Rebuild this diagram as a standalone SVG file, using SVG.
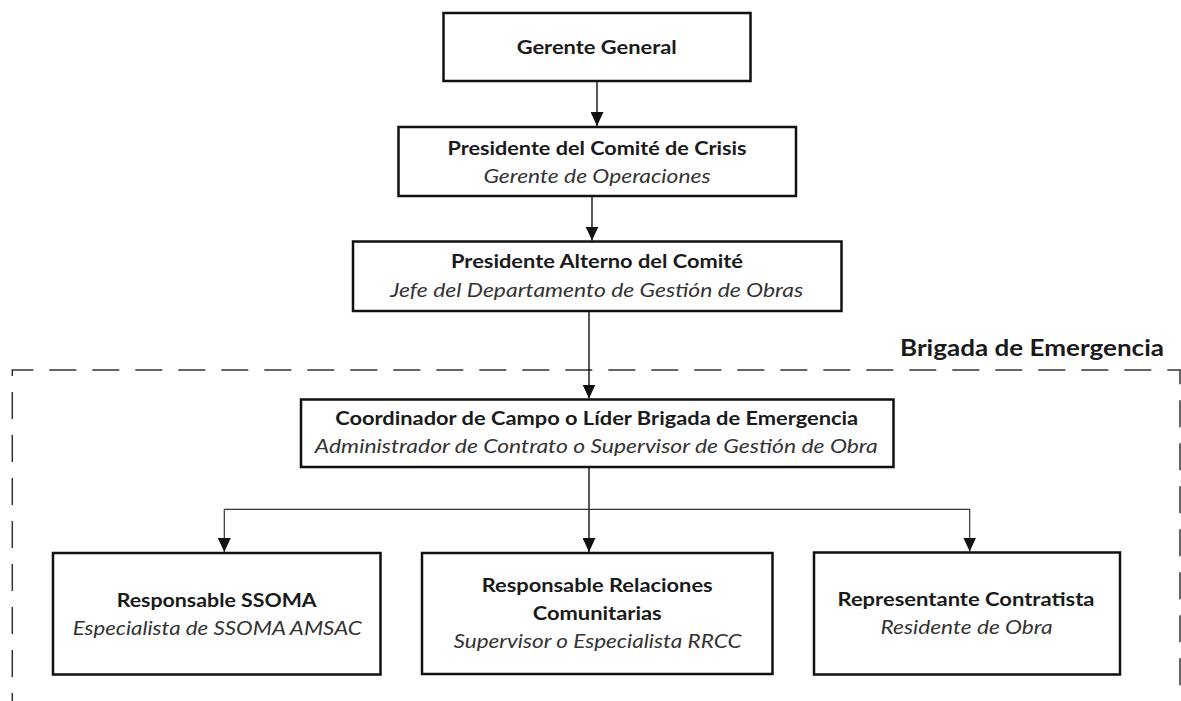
<svg xmlns="http://www.w3.org/2000/svg" width="1181" height="701" viewBox="0 0 1181 701">
  <style>
    .box { fill: #ffffff; stroke: #111111; stroke-width: 2.5; }
    .t { font-family: Lato, "Open Sans", "Liberation Sans", sans-serif; font-size: 19px; text-anchor: middle; }
    .b { font-weight: bold; fill: #1a1a1a; }
    .i { font-style: italic; fill: #333333; }
    .conn { fill: none; stroke: #111111; stroke-width: 1.4; }
    .branch { fill: none; stroke: #333333; stroke-width: 1.2; }
    .dash { fill: none; stroke: #333333; stroke-width: 1.5; stroke-dasharray: 27 16; }
    .title { font-family: Lato, "Open Sans", "Liberation Sans", sans-serif; font-size: 22px; font-weight: bold; fill: #1a1a1a; }
  </style>
  <defs>
    <marker id="arrow" viewBox="0 0 14 13" refX="14" refY="6.5" markerWidth="14" markerHeight="13" markerUnits="userSpaceOnUse" orient="auto">
      <path d="M0,0 L14,6.5 L0,13 Z" fill="#111111"/>
    </marker>
  </defs>
  <rect width="1181" height="701" fill="#ffffff"/>

  <g id="brigada-group">
    <path class="dash" d="M12.3,720 L12.3,370 L1180,370 L1180,720"/>
    <text class="title" x="900" y="356" textLength="264" lengthAdjust="spacingAndGlyphs">Brigada de Emergencia</text>
  </g>

  <g id="connectors">
    <path class="conn" d="M597,81 L597,126" marker-end="url(#arrow)"/>
    <path class="conn" d="M592,196 L592,240.5" marker-end="url(#arrow)"/>
    <path class="conn" d="M589,311 L589,398.5" marker-end="url(#arrow)"/>
    <path class="conn" d="M589,467 L589,552" marker-end="url(#arrow)"/>
    <path class="branch" d="M224.3,509.3 L969.7,509.3 L969.7,551.5" marker-end="url(#arrow)"/>
    <path class="branch" d="M224.3,509.3 L224.3,552" marker-end="url(#arrow)"/>
  </g>

  <g id="gerente-general">
    <rect class="box" x="443.5" y="13" width="307" height="68"/>
    <text class="t b" x="596.7" y="54" textLength="160" lengthAdjust="spacingAndGlyphs">Gerente General</text>
  </g>

  <g id="presidente-comite">
    <rect class="box" x="398.5" y="127" width="397.5" height="69"/>
    <text class="t b" x="597" y="155" textLength="299" lengthAdjust="spacingAndGlyphs">Presidente del Comité de Crisis</text>
    <text class="t i" x="597" y="182.5" textLength="227" lengthAdjust="spacingAndGlyphs">Gerente de Operaciones</text>
  </g>

  <g id="presidente-alterno">
    <rect class="box" x="353" y="241.5" width="488.5" height="69.5"/>
    <text class="t b" x="597" y="268.3" textLength="292" lengthAdjust="spacingAndGlyphs">Presidente Alterno del Comité</text>
    <text class="t i" x="596.7" y="296.7" textLength="413" lengthAdjust="spacingAndGlyphs">Jefe del Departamento de Gestión de Obras</text>
  </g>

  <g id="coordinador">
    <rect class="box" x="301" y="399.5" width="592.5" height="67.5"/>
    <text class="t b" x="596.7" y="425" textLength="523" lengthAdjust="spacingAndGlyphs">Coordinador de Campo o Líder Brigada de Emergencia</text>
    <text class="t i" x="596.3" y="453" textLength="563" lengthAdjust="spacingAndGlyphs">Administrador de Contrato o Supervisor de Gestión de Obra</text>
  </g>

  <g id="responsable-ssoma">
    <rect class="box" x="53" y="553" width="327.5" height="121.5"/>
    <text class="t b" x="216.7" y="606.7" textLength="200" lengthAdjust="spacingAndGlyphs">Responsable SSOMA</text>
    <text class="t i" x="217.2" y="635" textLength="289" lengthAdjust="spacingAndGlyphs">Especialista de SSOMA AMSAC</text>
  </g>

  <g id="responsable-rrcc">
    <rect class="box" x="422" y="553" width="350.5" height="121"/>
    <text class="t b" x="597.2" y="591.7" textLength="231" lengthAdjust="spacingAndGlyphs">Responsable Relaciones</text>
    <text class="t b" x="597.2" y="620" textLength="129" lengthAdjust="spacingAndGlyphs">Comunitarias</text>
    <text class="t i" x="597.5" y="648.3" textLength="288" lengthAdjust="spacingAndGlyphs">Supervisor o Especialista RRCC</text>
  </g>

  <g id="representante-contratista">
    <rect class="box" x="814" y="552.5" width="306" height="122"/>
    <text class="t b" x="966" y="605.7" textLength="257" lengthAdjust="spacingAndGlyphs">Representante Contratista</text>
    <text class="t i" x="966.5" y="634" textLength="172" lengthAdjust="spacingAndGlyphs">Residente de Obra</text>
  </g>
</svg>
